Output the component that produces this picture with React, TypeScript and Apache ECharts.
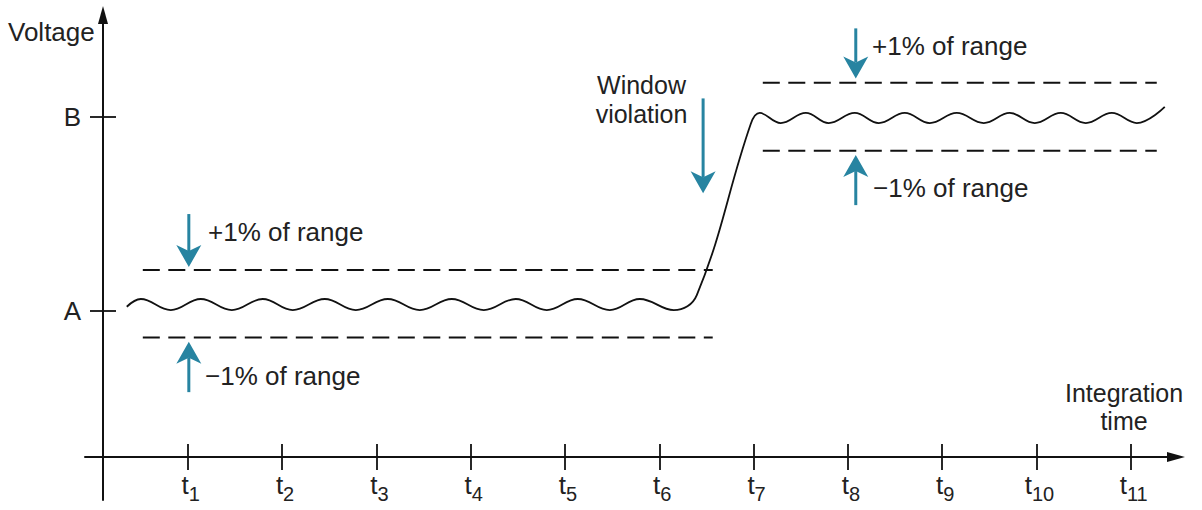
import React, { useEffect, useRef } from 'react';
import * as echarts from 'echarts';

// ---- data ----
const xTickValues = [1, 2, 3, 4, 5, 6, 7, 8, 9, 10, 11];
const xTickSubscripts = ['1', '2', '3', '4', '5', '6', '7', '8', '9', '10', '11'];
const yTickValues = [1, 2];
const yTickLabels = ['A', 'B'];

// measured signal: crests / troughs of the ripple, the step A -> B
const signal: [number, number][] = [
  [0.353, 1.022],
  [0.502, 1.062], [0.82, 1.005], [1.138, 1.062], [1.467, 1.005],
  [1.795, 1.062], [2.113, 1.005], [2.453, 1.062], [2.782, 1.005],
  [3.121, 1.062], [3.46, 1.005], [3.8, 1.062], [4.139, 1.005],
  [4.478, 1.062], [4.807, 1.005], [5.136, 1.062], [5.475, 1.005],
  [5.793, 1.062], [6.154, 1.005],
  [6.398, 1.082], [6.97, 1.964],
  [7.066, 2.021], [7.288, 1.969], [7.554, 2.021], [7.797, 1.969],
  [8.073, 2.021], [8.328, 1.969], [8.603, 2.021], [8.869, 1.969],
  [9.155, 2.021], [9.441, 1.969], [9.717, 2.021], [9.982, 1.969],
  [10.258, 2.021], [10.523, 1.969], [10.799, 2.021], [11.064, 1.969],
  [11.361, 2.052],
];

// window limits (±1% of range)
const windowA_upper: [number, number][] = [[0.523, 1.211], [6.567, 1.211]];
const windowA_lower: [number, number][] = [[0.523, 0.863], [6.567, 0.863]];
const windowB_upper: [number, number][] = [[7.098, 2.177], [11.276, 2.177]];
const windowB_lower: [number, number][] = [[7.098, 1.826], [11.276, 1.826]];

// arrows: [x, tail y, tip y]
const arrows: [number, number, number][] = [
  [1.011, 1.5, 1.227],
  [1.011, 0.582, 0.842],
  [6.465, 2.096, 1.607],
  [8.084, 2.457, 2.199],
  [8.084, 1.546, 1.804],
];

// ---- styles ----
const FONT = '"Liberation Sans", Arial, Helvetica, sans-serif';
const INK = '#111';
const TEXT = '#222';
const TEAL = '#2784a1';
const X_MIN = -0.09;
const X_MAX = 11.48;
const Y_MIN = 0.026;
const Y_MAX = 2.526;

function buildOption(): any {
  const dashStyle = { color: INK, width: 2, type: [17, 8.5] };
  const dashSeries = [windowA_upper, windowA_lower, windowB_upper, windowB_lower].map((d) => ({
    type: 'line',
    data: d,
    showSymbol: false,
    symbol: 'none',
    silent: true,
    lineStyle: dashStyle,
    z: 2,
  }));

  const txt = (text: string, x: number, y: number, align = 'left', size = 26) => ({
    type: 'text',
    x,
    y,
    silent: true,
    style: {
      text,
      fill: TEXT,
      fontSize: size,
      fontFamily: FONT,
      align,
      verticalAlign: 'middle',
      lineHeight: 23,
    },
  });

  const axisCommonX = {
    type: 'value',
    min: X_MIN,
    max: X_MAX,
    position: 'bottom',
    offset: -43,
    splitLine: { show: false },
  };
  const axisCommonY = {
    type: 'value',
    min: Y_MIN,
    max: Y_MAX,
    position: 'left',
    offset: -18,
    splitLine: { show: false },
  };

  return {
    animation: false,
    backgroundColor: '#fff',
    grid: { left: 85, right: 26, top: 15, bottom: 10, containLabel: false },
    xAxis: [
      {
        ...axisCommonX,
        axisLine: {
          show: true,
          onZero: false,
          symbol: ['none', 'triangle'],
          symbolSize: [10, 18],
          lineStyle: { color: INK, width: 2 },
        },
        axisTick: { show: true, customValues: xTickValues, length: 13, lineStyle: { color: INK, width: 1.8 } },
        axisLabel: {
          show: true,
          customValues: xTickValues,
          margin: 21,
          formatter: (v: number) => {
            const i = xTickValues.indexOf(Math.round(v));
            return `{t|t}{s|${xTickSubscripts[i]}}`;
          },
          rich: {
            t: { fontSize: 26, lineHeight: 26, fontFamily: FONT, color: TEXT, padding: [0, 0, 6, 6], verticalAlign: 'bottom' },
            s: { fontSize: 20, lineHeight: 20, fontFamily: FONT, color: TEXT, verticalAlign: 'bottom' },
          },
        },
      },
      {
        ...axisCommonX,
        axisLine: { show: false, onZero: false },
        axisTick: { show: true, inside: true, customValues: xTickValues, length: 13, lineStyle: { color: INK, width: 1.8 } },
        axisLabel: { show: false },
      },
    ],
    yAxis: [
      {
        ...axisCommonY,
        axisLine: {
          show: true,
          onZero: false,
          symbol: ['none', 'triangle'],
          symbolSize: [10, 18],
          lineStyle: { color: INK, width: 2 },
        },
        axisTick: { show: true, customValues: yTickValues, length: 13, lineStyle: { color: INK, width: 1.8 } },
        axisLabel: {
          show: true,
          customValues: yTickValues,
          margin: 22,
          fontSize: 26,
          fontFamily: FONT,
          color: TEXT,
          formatter: (v: number) => yTickLabels[yTickValues.indexOf(Math.round(v))] ?? '',
        },
      },
      {
        ...axisCommonY,
        axisLine: { show: false, onZero: false },
        axisTick: { show: true, inside: true, customValues: yTickValues, length: 13, lineStyle: { color: INK, width: 1.8 } },
        axisLabel: { show: false },
      },
    ],
    series: [
      {
        type: 'line',
        data: signal,
        smooth: 0.4,
        showSymbol: false,
        symbol: 'none',
        silent: true,
        lineStyle: { color: INK, width: 1.8 },
        z: 3,
      },
      ...dashSeries,
      {
        type: 'custom',
        data: arrows,
        silent: true,
        encode: { x: 0, y: [1, 2] },
        z: 4,
        renderItem: (_params: any, api: any) => {
          const x = api.value(0);
          const p0 = api.coord([x, api.value(1)]);
          const p1 = api.coord([x, api.value(2)]);
          const dir = p1[1] > p0[1] ? 1 : -1;
          const headLen = 22;
          const headHalfW = 12.5;
          const notch = 16;
          const backY = p1[1] - dir * headLen;
          const notchY = p1[1] - dir * notch;
          return {
            type: 'group',
            children: [
              {
                type: 'line',
                shape: { x1: p0[0], y1: p0[1], x2: p1[0], y2: notchY },
                style: { stroke: TEAL, lineWidth: 3 },
              },
              {
                type: 'polygon',
                shape: {
                  points: [
                    [p1[0], p1[1]],
                    [p1[0] + headHalfW, backY],
                    [p1[0], notchY],
                    [p1[0] - headHalfW, backY],
                  ],
                },
                style: { fill: TEAL },
              },
            ],
          };
        },
      },
    ],
    graphic: [
      txt('Voltage', 8, 32),
      txt('+1% of range', 208, 232),
      txt('\u22121% of range', 205, 376),
      txt('Window', 641.5, 85, 'center', 25),
      txt('violation', 641.5, 114, 'center', 25),
      txt('+1% of range', 872, 45.5),
      txt('\u22121% of range', 873, 188.4),
      txt('Integration', 1124, 392.5, 'center', 25),
      txt('time', 1124, 421, 'center', 25),
    ],
  };
}

export default function App() {
  const ref = useRef<HTMLDivElement>(null);
  useEffect(() => {
    if (!ref.current) return;
    const chart = echarts.init(ref.current, null, { renderer: 'svg' });
    chart.setOption(buildOption());
    return () => chart.dispose();
  }, []);
  return (
    <div
      ref={ref}
      style={{ position: 'absolute', left: 0, top: 0, width: 1202, height: 510, background: '#fff' }}
    />
  );
}
